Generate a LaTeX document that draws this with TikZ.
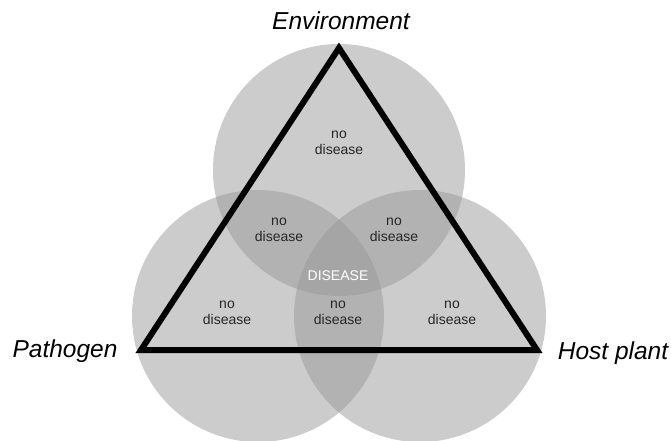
\documentclass[tikz,border=0pt]{standalone}
\usepackage{fontspec}
\setmainfont{Liberation Sans}
\begin{document}
\begin{tikzpicture}[x=1pt,y=-1pt,
  venn/.style={fill=black!40,fill opacity=0.5},
  tri/.style={draw=black,line width=6pt,miter limit=10},
  region/.style={align=center,text=black!85,font=\fontsize{14}{16}\selectfont},
  factor/.style={font=\fontsize{24.5}{28}\selectfont\itshape,text=black},
  core/.style={text=white,font=\fontsize{14}{16}\selectfont}]
\useasboundingbox (0,0) rectangle (671,441);
\fill[venn] (339,170) circle (126);
\fill[venn] (258,316) circle (126);
\fill[venn] (420,316) circle (126);
\coordinate (A) at (339,48);
\coordinate (B) at (141,350);
\coordinate (C) at (537,350);
\draw[tri] (A) -- (B) -- (C) -- cycle;
\node[factor] (env) at (341,21) {Environment};
\node[factor] (path) at (65,351) {Pathogen};
\node[factor] (host) at (613,353) {Host plant};
\node[region] (r1) at (339,143) {no\\disease};
\node[region] (r2) at (279,230) {no\\disease};
\node[region] (r3) at (394,230) {no\\disease};
\node[region] (r4) at (227,313) {no\\disease};
\node[region] (r5) at (338,313) {no\\disease};
\node[region] (r6) at (452,313) {no\\disease};
\node[core] (d) at (338,276) {DISEASE};
\end{tikzpicture}
\end{document}
